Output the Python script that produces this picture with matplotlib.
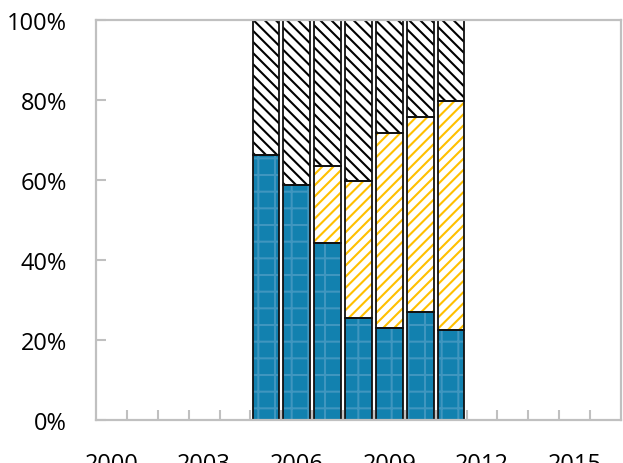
import matplotlib.pyplot as plt
import numpy as np

plt.rcParams['font.family'] = ['Open Sans', 'DejaVu Sans']
plt.rcParams['hatch.linewidth'] = 1.5

# ---- data (percent shares) ----
years = list(range(2000, 2017))
bar_years = [2005, 2006, 2007, 2008, 2009, 2010, 2011]
blue = [66.3, 58.8, 44.2, 25.4, 23.0, 26.9, 22.6]
yellow = [0.0, 0.0, 19.2, 34.4, 48.7, 48.8, 57.1]
black = [100 - b - y for b, y in zip(blue, yellow)]
label_years = [2000, 2003, 2006, 2009, 2012, 2015]

fig = plt.figure(figsize=(6.23, 4.64), dpi=100)
ax = fig.add_axes([0.1541, 0.0927, 0.8427, 0.862])

pos = np.array([years.index(y) for y in bar_years])
w = 0.86
blue = np.array(blue)
yellow = np.array(yellow)
black = np.array(black)

# fills with hatch (hatch colour = edgecolor), then black outlines on top
ax.bar(pos, blue, w, color='#1281AF', edgecolor='#3F96BF', hatch='+', linewidth=0)
ax.bar(pos, yellow, w, bottom=blue, color='white', edgecolor='#FFC000',
       hatch='///', linewidth=0)
ax.bar(pos, black, w, bottom=blue + yellow, color='white', edgecolor='black',
       hatch='\\\\\\', linewidth=0)
for vals, bottom in [(blue, 0), (yellow, blue), (black, blue + yellow)]:
    ax.bar(pos, vals, w, bottom=bottom, fill=False, edgecolor='#111111', linewidth=1.3)

ax.set_xlim(-0.5, len(years) - 0.5)
ax.set_ylim(0, 100)

ax.set_yticks([0, 20, 40, 60, 80, 100])
ax.set_yticklabels([f'{v}%' for v in [0, 20, 40, 60, 80, 100]])
ax.set_xticks([years.index(y) for y in label_years])
ax.set_xticklabels([str(y) for y in label_years])
ax.set_xticks(np.arange(0.5, len(years) - 1), minor=True)

for s in ax.spines.values():
    s.set_color('#C0C0C0')
    s.set_linewidth(1.6)

ax.tick_params(axis='y', direction='in', length=7, width=1.5, color='#C0C0C0',
               labelsize=17, pad=21)
ax.tick_params(axis='x', which='major', length=0, labelsize=17, pad=23)
ax.tick_params(axis='x', which='minor', direction='in', length=7, width=1.5,
               color='#C0C0C0')

fig.savefig('out.png', dpi=100)
